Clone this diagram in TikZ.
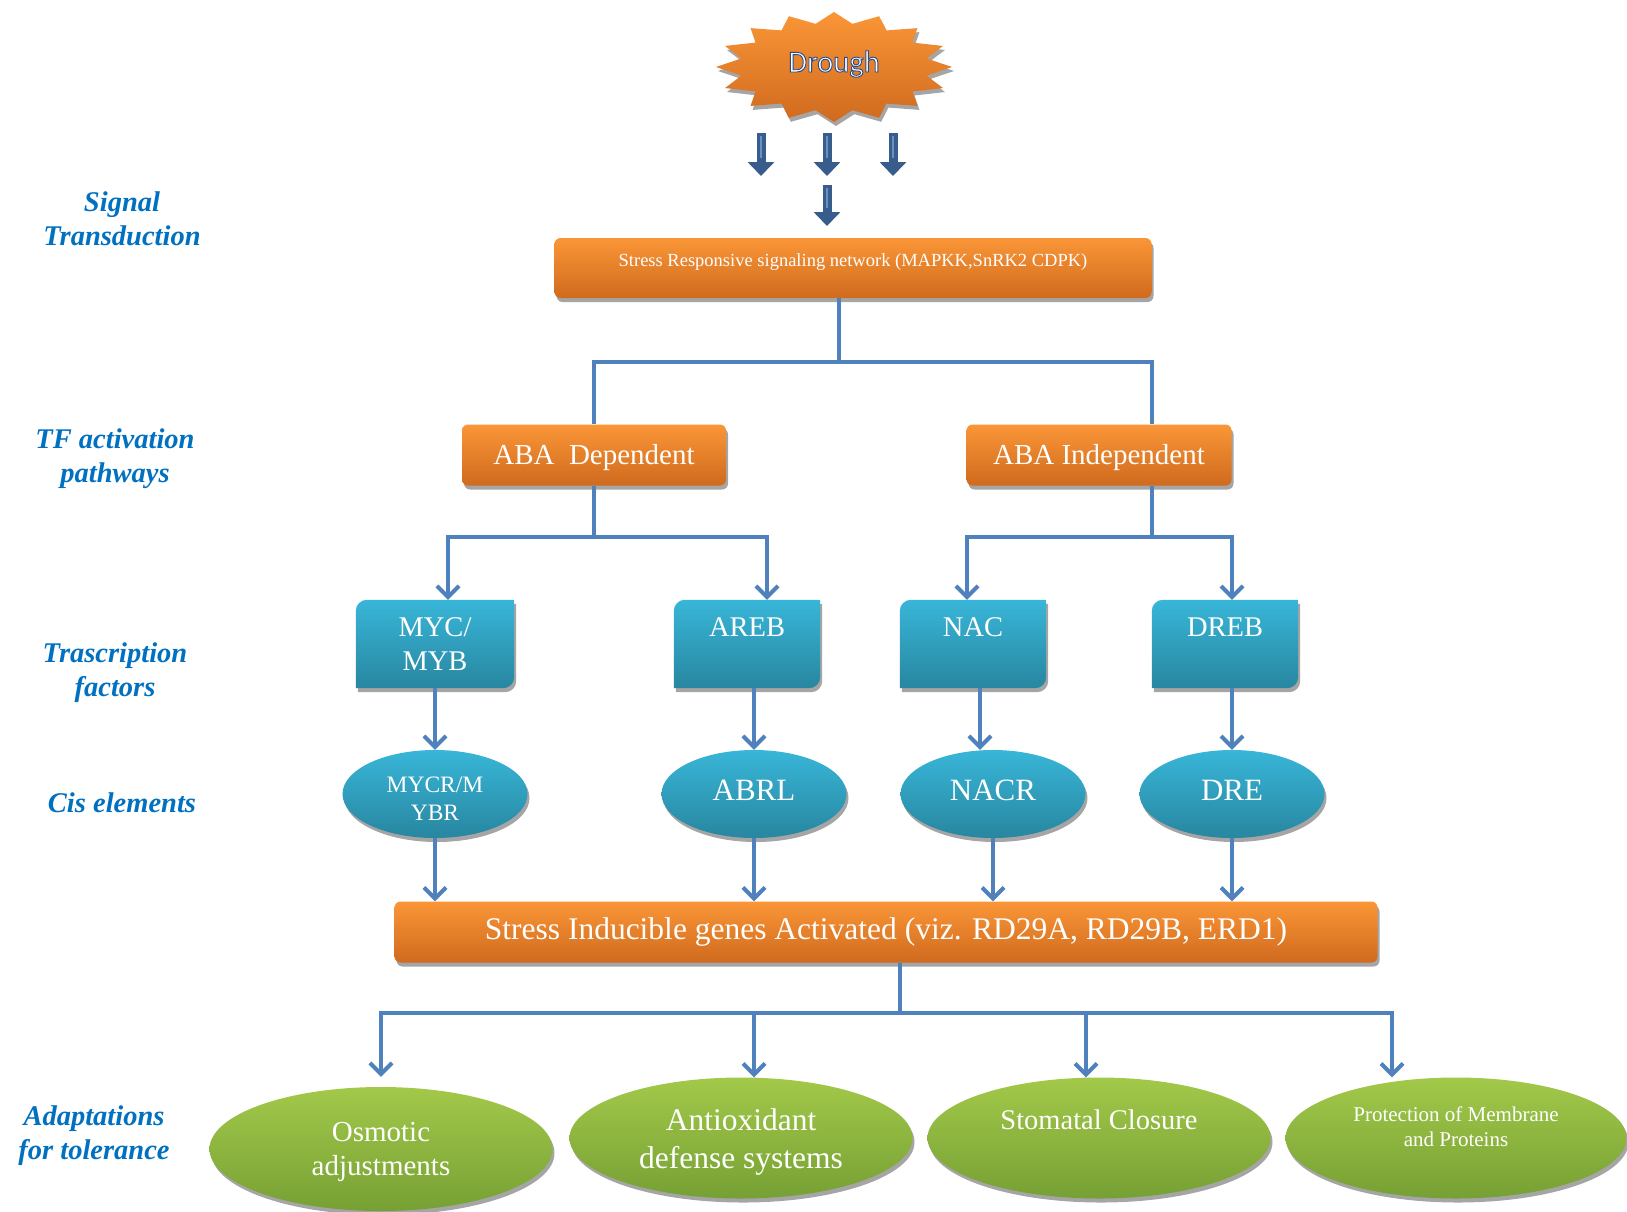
\documentclass[tikz,border=0pt]{standalone}
\usepackage{fontspec}
\setmainfont{Liberation Serif}
\newfontfamily\carl[FakeBold=3]{Carlito}
\usetikzlibrary{shapes.geometric,shadows,arrows.meta,calc}
\pgfdeclarelayer{background}
\pgfsetlayers{background,main}
\definecolor{orT}{RGB}{250,150,55}
\definecolor{orB}{RGB}{208,106,30}
\definecolor{cyT}{RGB}{56,182,216}
\definecolor{cyB}{RGB}{40,134,160}
\definecolor{grT}{RGB}{163,201,74}
\definecolor{grB}{RGB}{118,160,52}
\definecolor{lineblue}{RGB}{79,129,189}
\definecolor{blockblue}{RGB}{56,93,140}
\definecolor{stripeblue}{RGB}{105,145,195}
\definecolor{labelblue}{RGB}{0,112,192}
\definecolor{shadowgray}{RGB}{165,165,165}
\newcommand\fsz[2]{\fontsize{#1}{#2}\selectfont}
\newcommand\shiftt[2]{\raisebox{#1}[\height][\depth]{\begin{tabular}{@{}c@{}}#2\end{tabular}}}
\newcommand\tfback[1]{%
  \begin{pgfonlayer}{background}
  \shade[top color=cyT, bottom color=cyB, myshadow]
    (#1.south west) -- ($(#1.north west)+(0,-11)$)
    .. controls ($(#1.north west)+(0,-5)$) and ($(#1.north west)+(5,0)$) .. ($(#1.north west)+(11,0)$)
    -- (#1.north east) -- ($(#1.south east)+(0,11)$)
    .. controls ($(#1.south east)+(0,5)$) and ($(#1.south east)+(-5,0)$) .. ($(#1.south east)+(-11,0)$)
    -- cycle;
  \end{pgfonlayer}}

\tikzset{
 myshadow/.style={drop shadow={shadow xshift=2pt,shadow yshift=-4pt,fill=shadowgray,opacity=1}},
 orangebox/.style={rectangle, rounded corners=6pt, top color=orT, bottom color=orB, myshadow, text=white, inner sep=0pt, align=center},
 tftext/.style={rectangle, inner sep=0pt, text=white, align=center, font=\fsz{28.5}{34}, minimum height=88pt},
 cisnode/.style={ellipse, top color=cyT, bottom color=cyB, myshadow, text=white, inner sep=0pt, align=center, minimum width=185pt, minimum height=88pt, font=\fsz{31}{36}},
 adapt/.style={ellipse, top color=grT, bottom color=grB, myshadow, text=white, inner sep=0pt, align=center, minimum width=343pt, minimum height=121pt},
 sidelabel/.style={text=labelblue, font=\fsz{28.5}{34}\bfseries\itshape, align=center},
 conn/.style={draw=lineblue, line width=4pt},
 arr/.style={conn, -{Straight Barb[length=11pt,width=22pt]}},
 blockarrow/.style={draw=blockblue, line width=9pt, -{Triangle[length=14pt,width=26pt]}, postaction={draw=stripeblue, line width=2pt, -, shorten >=18pt, shorten <=3pt}},
}

\begin{document}
\begin{tikzpicture}[x=1pt,y=1pt]
\useasboundingbox (0,0) rectangle (1627,-1211);

% side labels
\node[sidelabel] (l1) at (122,-219) {Signal\\Transduction};
\node[sidelabel] (l2) at (115,-459) {TF activation\\pathways};
\node[sidelabel] (l3) at (115,-673) {Trascription\\factors};
\node[sidelabel] (l4) at (122,-803) {Cis elements};
\node[sidelabel] (l5) at (94,-1136) {Adaptations\\for tolerance};

% drought star
\node[inner sep=0pt] (drought) at (834,-67)
      {\raisebox{3pt}[\height][\depth]{\carl\fsz{30.5}{36}\special{pdf:bcolor [1 1 1] [0.14 0.30 0.55]}Drough\special{pdf:ecolor}}};
\begin{pgfonlayer}{background}
\shade[top color=orT, bottom color=orB, myshadow]
  ($(drought.center)+(118,0)$)
  \foreach \i [evaluate=\i as \rf using {mod(\i,2)==0 ? 1 : 0.8}] in {1,...,31} {
    -- ($(drought.center)+({\i*11.25}:{118*\rf} and {55*\rf})$) } -- cycle;
\end{pgfonlayer}

% block arrows
\coordinate (b1s) at (761,-133); \coordinate (b1e) at (761,-176);
\coordinate (b2s) at (827,-133); \coordinate (b2e) at (827,-176);
\coordinate (b3s) at (893,-133); \coordinate (b3e) at (893,-176);
\coordinate (b4s) at (827,-185); \coordinate (b4e) at (827,-226);
\draw[blockarrow] (b1s) -- (b1e);
\draw[blockarrow] (b2s) -- (b2e);
\draw[blockarrow] (b3s) -- (b3e);
\draw[blockarrow] (b4s) -- (b4e);

% boxes
\node[orangebox, minimum width=597pt, minimum height=60pt, font=\fsz{18.5}{22}] (stress) at (853,-268)
  {\raisebox{6pt}[\height][\depth]{Stress Responsive signaling network (MAPKK,SnRK2 CDPK)}};
\node[orangebox, minimum width=264pt, minimum height=61pt, font=\fsz{29}{34}] (abadep) at (594,-455) {\raisebox{-3pt}[\height][\depth]{ABA\ \ Dependent}};
\node[orangebox, minimum width=265pt, minimum height=61pt, font=\fsz{29}{34}] (abaind) at (1099,-455) {\raisebox{-3pt}[\height][\depth]{ABA Independent}};

\node[tftext, minimum width=158pt] (myc) at (435,-644) {MYC/\\MYB};
\node[tftext, minimum width=146pt] (areb) at (747,-644) {AREB\\\mbox{}};
\node[tftext, minimum width=146pt] (nac) at (973,-644) {NAC\\\mbox{}};
\node[tftext, minimum width=146pt] (dreb) at (1225,-644) {DREB\\\mbox{}};
\tfback{myc}\tfback{areb}\tfback{nac}\tfback{dreb}

\node[cisnode, font=\fsz{23.5}{28}] (mycr) at (435,-794) {\shiftt{-7pt}{MYCR/M\\YBR}};
\node[cisnode] (abrl) at (754,-794) {\raisebox{4pt}[\height][\depth]{ABRL}};
\node[cisnode] (nacr) at (993,-794) {\raisebox{4pt}[\height][\depth]{NACR}};
\node[cisnode] (dre) at (1232,-794) {\raisebox{4pt}[\height][\depth]{DRE}};

\node[orangebox, minimum width=983pt, minimum height=61pt, font=\fsz{31.5}{36}] (gene) at (886,-932)
  {Stress Inducible genes Activated (viz. RD29A, RD29B, ERD1)};

\node[adapt, minimum height=124pt, font=\fsz{29}{34}] (osm) at (381,-1149) {\shiftt{-3pt}{Osmotic\\adjustments}};
\node[adapt, font=\fsz{31.5}{38}] (ant) at (741,-1138) {\shiftt{-4pt}{Antioxidant\\defense systems}};
\node[adapt, font=\fsz{28.5}{34}] (sto) at (1099,-1138) {\raisebox{18pt}[\height][\depth]{Stomatal Closure}};
\node[adapt, minimum width=341pt, font=\fsz{21}{25}] (pro) at (1456,-1138)
  {\shiftt{9pt}{Protection of Membrane\\and Proteins}};

% connectors
\coordinate (hub1) at (839,-362);
\draw[conn] (stress.south -| hub1) -- (hub1);
\draw[conn] (abadep.north) |- (hub1) -| ([xshift=53pt]abaind.north);

\coordinate (hub2) at (594,-537);
\draw[conn] (abadep.south) -- (hub2);
\draw[arr] (hub2) -| ([xshift=13pt]myc.north);
\draw[arr] (hub2) -| ([xshift=20pt]areb.north);
\coordinate (hub3) at (1152,-537);
\draw[conn] ([xshift=53pt]abaind.south) -- (hub3);
\draw[arr] (hub3) -| ([xshift=-6pt]nac.north);
\draw[arr] (hub3) -| ([xshift=7pt]dreb.north);

\draw[arr] (myc.south) -- (mycr.north);
\draw[arr] ([xshift=7pt]areb.south) -- (abrl.north);
\draw[arr] ([xshift=7pt]nac.south) -- ([xshift=-13pt]nacr.north);
\draw[arr] ([xshift=7pt]dreb.south) -- (dre.north);

\draw[arr] (mycr.south) -- (mycr.south |- gene.north);
\draw[arr] (abrl.south) -- (abrl.south |- gene.north);
\draw[arr] (nacr.south) -- (nacr.south |- gene.north);
\draw[arr] (dre.south) -- (dre.south |- gene.north);

\coordinate (hub4) at (900,-1013);
\draw[conn] (gene.south -| hub4) -- (hub4);
\draw[arr, shorten >=10pt] (hub4) -| (osm.north);
\draw[arr] (hub4) -| ([xshift=13pt]ant.north);
\draw[arr] (hub4) -| ([xshift=-13pt]sto.north);
\draw[arr] (hub4) -| ([xshift=-64pt]pro.north);
\end{tikzpicture}
\end{document}
